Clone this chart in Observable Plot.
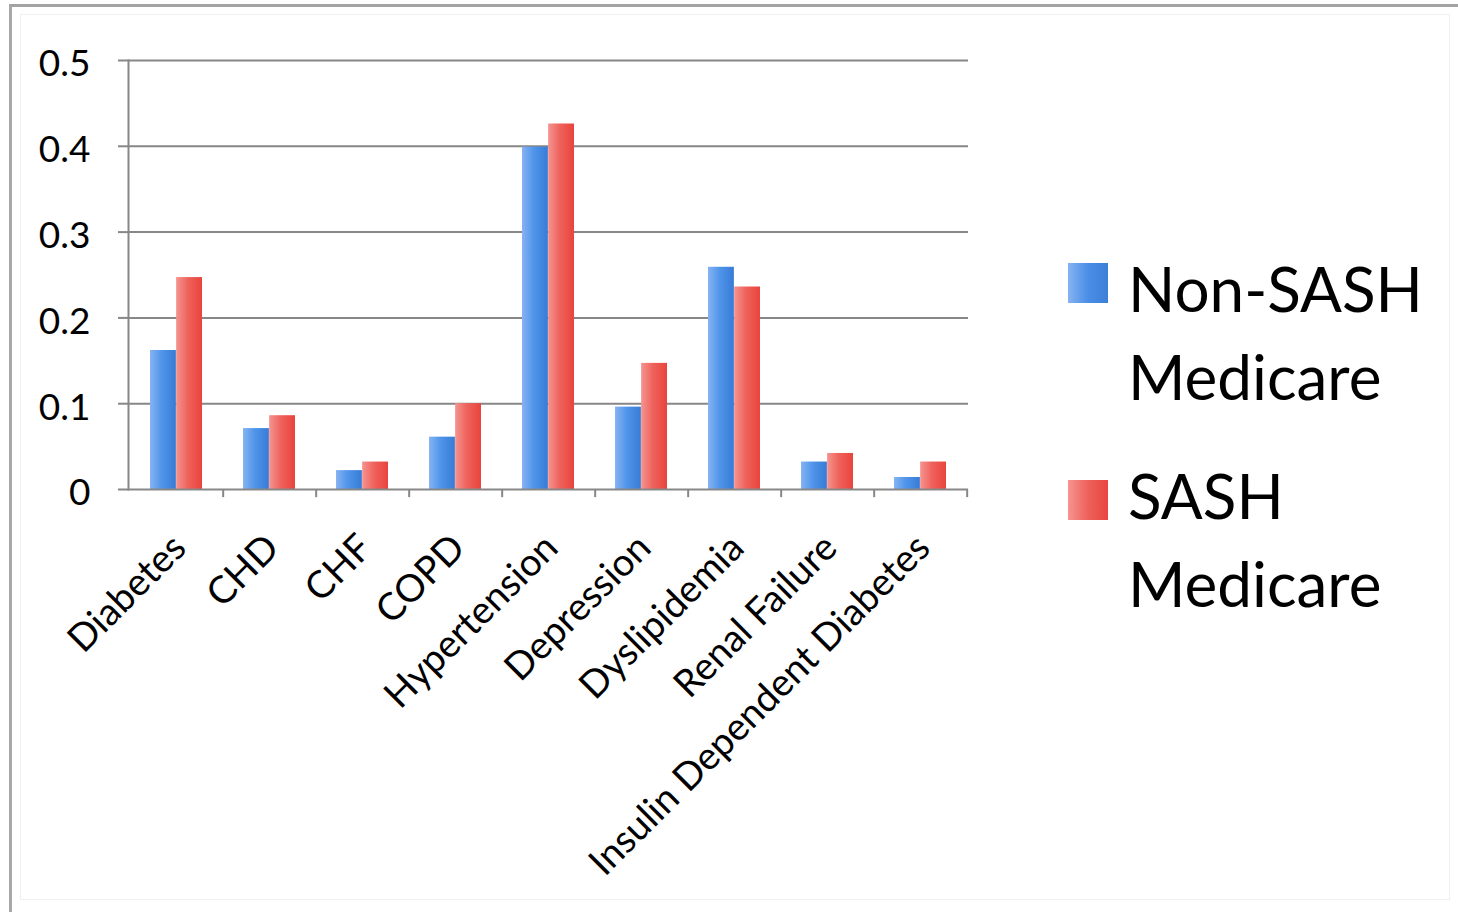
<!DOCTYPE html>
<html>
<head>
<meta charset="utf-8">
<script src="https://cdn.jsdelivr.net/npm/d3@7"></script>
<script src="https://cdn.jsdelivr.net/npm/@observablehq/plot@0.6"></script>
<style>
  html, body { margin: 0; padding: 0; background: #fff; }
  #wrap { position: relative; width: 1458px; height: 912px; overflow: hidden; font-family: Lato, "Open Sans", sans-serif; }
  #frame { position: absolute; left: 9px; top: 4px; width: 1452px; height: 920px; border-top: 3px solid #a3a3a3; border-left: 3px solid #a8a8a8; box-sizing: border-box; }
  #inner { position: absolute; left: 20px; top: 14px; width: 1430px; height: 886px; border: 1px solid #f0f0f0; box-sizing: border-box; }
  #chart { position: absolute; left: 0; top: 0; }
  .leg { position: absolute; left: 1068px; font-size: 62px; line-height: 88px; color: #000; font-family: Lato, sans-serif; }
  .leg .sw { position: absolute; left: 0; width: 40px; height: 40px; }
  .leg .tx { position: absolute; left: 60px; top: 0; white-space: nowrap; }
</style>
</head>
<body>
<div id="wrap">
  <div id="frame"></div>
  <div id="inner"></div>
  <div id="chart"></div>
  <div id="legend"></div>
</div>
<script>
// ---- data ----
const categories = ["Diabetes", "CHD", "CHF", "COPD", "Hypertension", "Depression", "Dyslipidemia", "Renal Failure", "Insulin Dependent Diabetes"];
const nonSash = [0.162, 0.071, 0.022, 0.061, 0.399, 0.096, 0.259, 0.032, 0.014];
const sash    = [0.247, 0.086, 0.032, 0.100, 0.426, 0.147, 0.236, 0.042, 0.032];
const seriesNames = ["Non-SASH Medicare", "SASH Medicare"];
const yTicks = [0, 0.1, 0.2, 0.3, 0.4, 0.5];

const rowsBlue = categories.map((c, i) => ({category: c, value: nonSash[i]}));
const rowsRed = categories.map((c, i) => ({category: c, value: sash[i]}));

// ---- layout ----
const W = 1458, H = 912;
const mL = 128, mR = 490, mT = 60, mB = 423;
const pIn = 0.44, pOut = 0.22;
const plotW = W - mL - mR;
const step = plotW / (categories.length - pIn + 2 * pOut);
const half = step * (1 - pIn) / 2;

const plot = Plot.plot({
  width: W,
  height: H,
  marginLeft: mL,
  marginRight: mR,
  marginTop: mT,
  marginBottom: mB,
  style: {fontFamily: "Lato, sans-serif", fontSize: "37px", color: "#000", background: "transparent"},
  x: {domain: categories, paddingInner: pIn, paddingOuter: pOut, label: null},
  y: {domain: [0, 0.5], label: null},
  marks: [
    Plot.ruleY(yTicks.filter(d => d > 0), {stroke: "#878787", strokeWidth: 2}),
    Plot.barY(rowsBlue, {x: "category", y: "value", fill: "url(#gBlue)", insetLeft: 0, insetRight: half}),
    Plot.barY(rowsRed, {x: "category", y: "value", fill: "url(#gRed)", insetLeft: half, insetRight: 0}),
    Plot.ruleY([0], {stroke: "#878787", strokeWidth: 2}),
    Plot.ruleX(categories, {x: d => d, dx: step / 2, y1: 0, y2: -0.0095, stroke: "#878787", strokeWidth: 2}),
    Plot.frame({anchor: "left", stroke: "#878787", strokeWidth: 2}),
    // tick marks only
    Plot.axisY({ticks: yTicks, tickFormat: () => "", tickSize: 10, stroke: "#878787", strokeWidth: 2, label: null}),
    // tick labels only, sitting a little low as in the original
    Plot.axisY({ticks: yTicks, tickFormat: d => String(d), tickSize: 0, tickPadding: 38, dy: 4, label: null}),
    Plot.axisX({tickSize: 0, tickPadding: 52, tickRotate: -45, dx: 3, fontSize: 38, label: null})
  ]
});

// gradients
const svg = d3.select(plot);
const defs = svg.insert("defs", ":first-child");
const gb = defs.append("linearGradient").attr("id", "gBlue").attr("x1", "0").attr("x2", "1").attr("y1", "0").attr("y2", "0");
gb.append("stop").attr("offset", "0%").attr("stop-color", "#86b3f2");
gb.append("stop").attr("offset", "45%").attr("stop-color", "#5095ea");
gb.append("stop").attr("offset", "100%").attr("stop-color", "#377bd6");
const gr = defs.append("linearGradient").attr("id", "gRed").attr("x1", "0").attr("x2", "1").attr("y1", "0").attr("y2", "0");
gr.append("stop").attr("offset", "0%").attr("stop-color", "#f59490");
gr.append("stop").attr("offset", "45%").attr("stop-color", "#ef625c");
gr.append("stop").attr("offset", "100%").attr("stop-color", "#e8443c");

document.getElementById("chart").appendChild(plot);

// legend (HTML, right of the chart)
const legend = document.getElementById("legend");
const legendTops = [244, 451];
const swatches = ["linear-gradient(to right, #86b3f2, #4a8ee6 50%, #3b7fd8)", "linear-gradient(to right, #f59490, #ee615b 50%, #e8463f)"];
seriesNames.forEach((name, i) => {
  const item = document.createElement("div");
  item.className = "leg";
  item.style.top = legendTops[i] + "px";
  const sw = document.createElement("div");
  sw.className = "sw";
  sw.style.top = (i === 0 ? 19 : 29) + "px";
  sw.style.background = swatches[i];
  const tx = document.createElement("div");
  tx.className = "tx";
  const parts = name.split(" ");
  tx.innerHTML = parts[0] + "<br>" + parts[1];
  item.appendChild(sw);
  item.appendChild(tx);
  legend.appendChild(item);
});
</script>
</body>
</html>
